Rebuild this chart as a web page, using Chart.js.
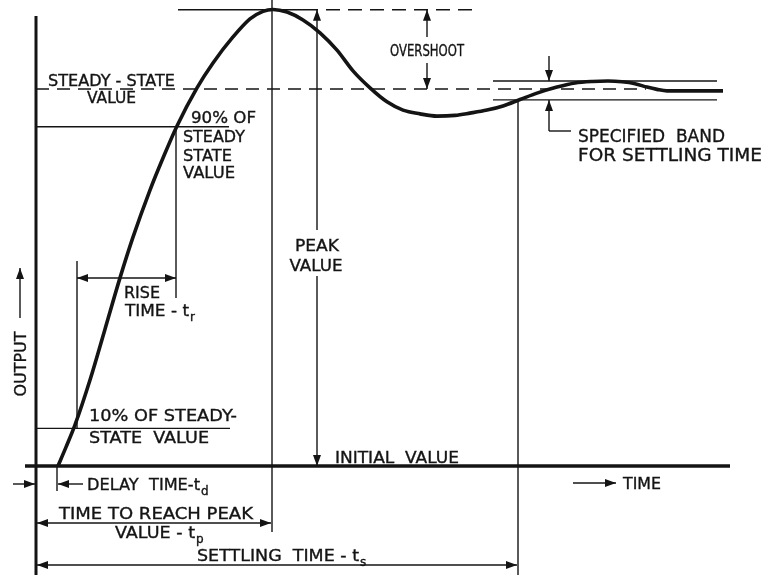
<!DOCTYPE html>
<html lang="en">
<head>
    <meta charset="UTF-8">
    <title>Step response - time domain specifications</title>
    <script src="https://cdn.jsdelivr.net/npm/chart.js@4.4.0/dist/chart.umd.min.js"></script>
    <style>
        body { margin: 0; background: #fff; }
        #chart-container { width: 761px; height: 575px; }
    </style>
</head>
<body>
    <div id="chart-container">
        <canvas id="respChart"></canvas>
    </div>

    <script>
        // response curve (time in arbitrary units, output with steady state = 1)
        const timeVals = [2.2, 3.0, 3.9, 5.4, 6.9, 8.4, 9.7, 11.4, 12.7, 14.1, 16.1, 17.7, 19.7, 21.4, 22.7, 23.7,
                          25.1, 26.7, 28.4, 30.1, 31.7, 33.4, 35.1, 36.7, 38.4, 40.1, 41.9, 43.4, 45.1, 46.7, 48.4,
                          50.1, 52.1, 53.9, 55.6, 57.2, 58.6, 59.9, 61.1, 62.1, 63.1, 64.4, 66.4, 68.7];
        const outputVals = [0, 0.050, 0.109, 0.228, 0.363, 0.499, 0.607, 0.732, 0.817, 0.902, 1.003, 1.069, 1.138, 1.186, 1.206, 1.211,
                            1.204, 1.183, 1.149, 1.103, 1.048, 1.003, 0.966, 0.944, 0.934, 0.928, 0.930, 0.936, 0.944, 0.955, 0.972,
                            0.989, 1.005, 1.016, 1.020, 1.021, 1.019, 1.014, 1.005, 0.999, 0.995, 0.995, 0.995, 0.995];

        // reference levels
        const levelNames = ['initial', 'tenPct', 'ninetyPct', 'steady', 'bandLower', 'bandUpper', 'peak'];
        const levelVals = [0, 0.1, 0.9, 1, 0.971, 1.021, 1.21];
        // characteristic times
        const timeNames = ['delay', 'rise10', 'rise90', 'peak', 'settle'];
        const timeMarks = [2.1, 4.1, 14.0, 23.6, 48.2];

        const L = {}; levelNames.forEach((n, i) => L[n] = levelVals[i]);
        const T = {}; timeNames.forEach((n, i) => T[n] = timeMarks[i]);

        const INK = '#141414';
        const FONT = '"DejaVu Sans", "Liberation Sans", sans-serif';

        function line(ctx, x1, y1, x2, y2, w, dash) {
            ctx.save();
            ctx.strokeStyle = INK;
            ctx.lineWidth = w || 1.4;
            ctx.setLineDash(dash || []);
            ctx.beginPath();
            ctx.moveTo(x1, y1);
            ctx.lineTo(x2, y2);
            ctx.stroke();
            ctx.restore();
        }

        function head(ctx, x, y, ang) {
            ctx.save();
            ctx.fillStyle = INK;
            ctx.translate(x, y);
            ctx.rotate(ang);
            ctx.beginPath();
            ctx.moveTo(0, 0);
            ctx.lineTo(-11, -4);
            ctx.lineTo(-11, 4);
            ctx.closePath();
            ctx.fill();
            ctx.restore();
        }

        // heads: 'end', 'start', 'both'
        function arrow(ctx, x1, y1, x2, y2, heads) {
            line(ctx, x1, y1, x2, y2, 1.4);
            const a = Math.atan2(y2 - y1, x2 - x1);
            if (heads === 'end' || heads === 'both') head(ctx, x2, y2, a);
            if (heads === 'start' || heads === 'both') head(ctx, x1, y1, a + Math.PI);
        }

        // text squeezed / stretched to a target width, returns right edge
        function txt(ctx, s, x, y, size, w, align) {
            ctx.save();
            ctx.font = size + 'px ' + FONT;
            ctx.fillStyle = INK;
            ctx.strokeStyle = INK;
            ctx.lineWidth = 0.35;
            ctx.textBaseline = 'alphabetic';
            const m = ctx.measureText(s).width;
            const k = w ? w / m : 1;
            const x0 = align === 'center' ? x - m * k / 2 : x;
            ctx.translate(x0, y);
            ctx.scale(k, 1);
            ctx.fillText(s, 0, 0);
            ctx.strokeText(s, 0, 0);
            ctx.restore();
            return x0 + m * k;
        }

        function sub(ctx, base, s, x, y, size, w) {
            const e = txt(ctx, base, x, y, size, w);
            txt(ctx, s, e + 1, y + 5, size - 4);
        }

        const annotations = {
            id: 'annotations',
            beforeDatasetsDraw(chart) {
                const ctx = chart.ctx;
                const X = v => chart.scales.x.getPixelForValue(v);
                const Y = v => chart.scales.y.getPixelForValue(v);
                const x0 = X(0);

                // axes
                line(ctx, x0, 16, x0, 575, 3);
                line(ctx, 25, Y(L.initial), 730, Y(L.initial), 3.5);

                // steady-state and peak levels
                line(ctx, x0, Y(L.steady), X(61), Y(L.steady), 1.5, [13, 8]);
                line(ctx, 178, Y(L.peak), 318, Y(L.peak), 1.5);
                line(ctx, 326, Y(L.peak), 475, Y(L.peak), 1.5, [14, 8]);

                // time verticals
                line(ctx, X(T.peak), 0, X(T.peak), 532, 1.4);
                line(ctx, X(T.settle), Y(L.bandLower), X(T.settle), 575, 1.4);

                // 90 % and 10 %
                line(ctx, x0, Y(L.ninetyPct), 229, Y(L.ninetyPct), 1.4);
                line(ctx, X(T.rise90), Y(L.ninetyPct), X(T.rise90), 298, 1.4);
                line(ctx, x0, Y(L.tenPct), 230, Y(L.tenPct), 1.4);
                line(ctx, X(T.rise10), 261, X(T.rise10), Y(L.tenPct), 1.4);
                arrow(ctx, X(T.rise10), 278, X(T.rise90), 278, 'both');

                // settling band
                line(ctx, 493, Y(L.bandUpper), 717, Y(L.bandUpper), 1.4);
                line(ctx, 493, Y(L.bandLower), 717, Y(L.bandLower), 1.4);
                arrow(ctx, 549, 56, 549, Y(L.bandUpper), 'end');
                arrow(ctx, 549, 131, 549, Y(L.bandLower), 'end');
                line(ctx, 549, 131, 571, 131, 1.4);

                // overshoot
                arrow(ctx, 427, 37, 427, Y(L.peak), 'end');
                arrow(ctx, 427, 63, 427, Y(L.steady), 'end');

                // peak value
                arrow(ctx, 317, 230, 317, Y(L.peak), 'end');
                arrow(ctx, 317, 276, 317, Y(L.initial), 'end');

                // delay time
                arrow(ctx, 13, 484, x0 - 1, 484, 'end');
                line(ctx, X(T.delay), Y(L.initial), X(T.delay), 491, 1.4);
                arrow(ctx, 83, 484, X(T.delay) + 1, 484, 'end');

                // time / output arrows
                arrow(ctx, 573, 483, 616, 483, 'end');
                arrow(ctx, 20, 318, 20, 268, 'end');

                // time to peak, settling time
                arrow(ctx, x0 + 1, 523, X(T.peak) - 1, 523, 'both');
                arrow(ctx, x0 + 1, 565, X(T.settle) - 1, 565, 'both');

                // labels
                txt(ctx, 'STEADY - STATE', 48, 86, 16, 127);
                txt(ctx, 'VALUE', 87, 103, 16, 49);
                txt(ctx, '90% OF', 191, 123, 16, 65);
                txt(ctx, 'STEADY', 183, 142, 16, 62);
                txt(ctx, 'STATE', 183, 161, 16, 49);
                txt(ctx, 'VALUE', 183, 178, 16, 52);
                txt(ctx, 'OVERSHOOT', 427, 56, 15, 74, 'center');
                txt(ctx, 'SPECIFIED  BAND', 578, 142, 17, 147);
                txt(ctx, 'FOR SETTLING TIME', 578, 161, 17, 184);
                txt(ctx, 'PEAK', 317, 251, 16, 44, 'center');
                txt(ctx, 'VALUE', 316, 271, 16, 53, 'center');
                txt(ctx, 'RISE', 124, 298, 16, 36);
                sub(ctx, 'TIME - t', 'r', 125, 316, 16, 64);
                txt(ctx, '10% OF STEADY-', 89, 421, 16, 148);
                txt(ctx, 'STATE  VALUE', 89, 443, 16, 120);
                txt(ctx, 'INITIAL  VALUE', 335, 463, 16, 124);
                sub(ctx, 'DELAY  TIME-t', 'd', 87, 490, 16, 113);
                txt(ctx, 'TIME', 623, 489, 16, 38);
                txt(ctx, 'TIME TO REACH PEAK', 59, 519, 16, 194);
                sub(ctx, 'VALUE - t', 'p', 115, 538, 16, 80);
                sub(ctx, 'SETTLING  TIME - t', 's', 197, 561, 16, 162);

                // rotated axis title
                ctx.save();
                ctx.translate(20, 364);
                ctx.rotate(-Math.PI / 2);
                txt(ctx, 'OUTPUT', 0, 6, 16, 65, 'center');
                ctx.restore();
            }
        };

        const points = timeVals.map((t, i) => ({ x: t, y: outputVals[i] }));

        new Chart(document.getElementById('respChart'), {
            type: 'line',
            data: {
                datasets: [{
                    data: points,
                    borderColor: INK,
                    borderWidth: 3.6,
                    pointRadius: 0,
                    cubicInterpolationMode: 'monotone',
                    clip: false
                }]
            },
            options: {
                responsive: true,
                maintainAspectRatio: false,
                animation: false,
                layout: { padding: 0 },
                plugins: { legend: { display: false }, tooltip: { enabled: false } },
                scales: {
                    x: { type: 'linear', min: -3.6, max: 72.5, display: false },
                    y: { type: 'linear', min: -0.289, max: 1.236, display: false }
                }
            },
            plugins: [annotations]
        });
    </script>
</body>
</html>
